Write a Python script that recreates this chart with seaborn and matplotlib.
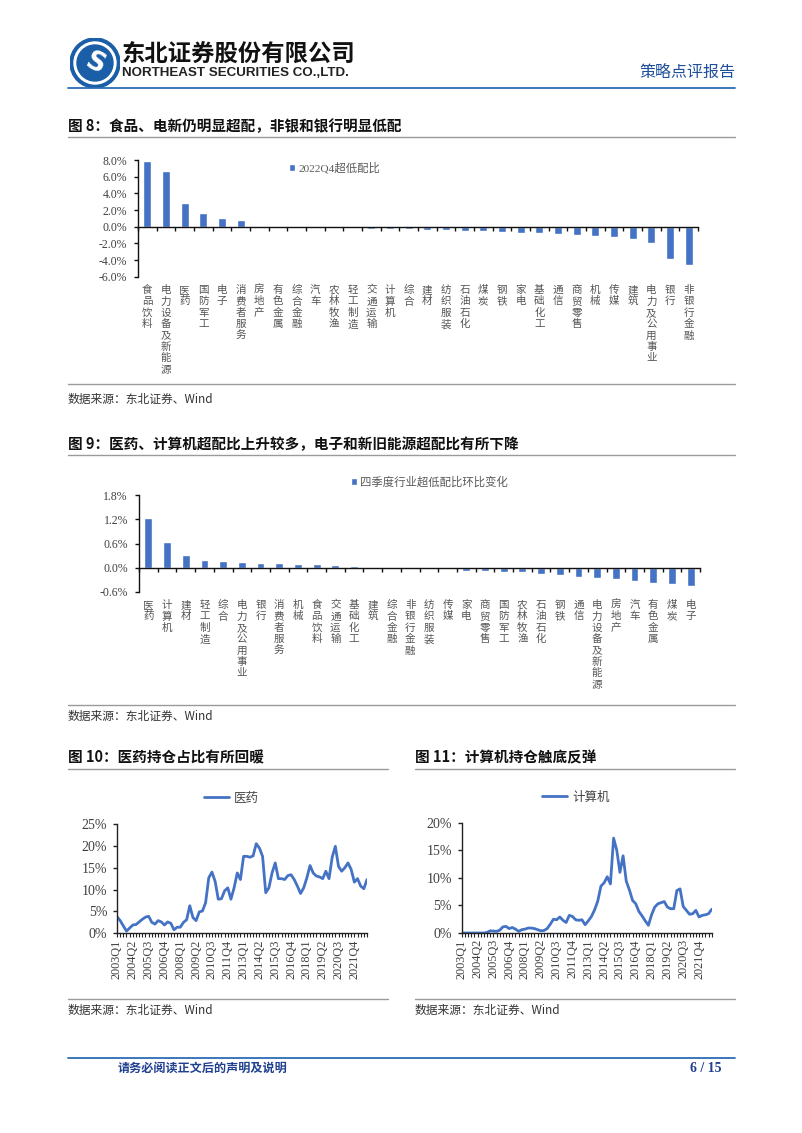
import numpy as np
import pandas as pd
import matplotlib
matplotlib.use("Agg")
import matplotlib.pyplot as plt
import matplotlib.transforms as mtransforms
from matplotlib.lines import Line2D
from matplotlib.patches import Circle
import seaborn as sns

# ---------------- data ----------------
fig8_cats = ["食品饮料", "电力设备及新能源", "医药", "国防军工", "电子", "消费者服务", "房地产",
             "有色金属", "综合金融", "汽车", "农林牧渔", "轻工制造", "交通运输", "计算机", "综合",
             "建材", "纺织服装", "石油石化", "煤炭", "钢铁", "家电", "基础化工", "通信", "商贸零售",
             "机械", "传媒", "建筑", "电力及公用事业", "银行", "非银行金融"]
fig8_vals = [7.9, 6.7, 2.9, 1.6, 1.1, 0.8, 0.02, 0.0, -0.05, -0.1, -0.15, -0.2, -0.25, -0.25,
             -0.3, -0.35, -0.4, -0.5, -0.55, -0.6, -0.7, -0.8, -0.9, -1.0, -1.1, -1.2, -1.5,
             -2.0, -3.9, -4.6]

fig9_cats = ["医药", "计算机", "建材", "轻工制造", "综合", "电力及公用事业", "银行", "消费者服务",
             "机械", "食品饮料", "交通运输", "基础化工", "建筑", "综合金融", "非银行金融", "纺织服装",
             "传媒", "家电", "商贸零售", "国防军工", "农林牧渔", "石油石化", "钢铁", "通信",
             "电力设备及新能源", "房地产", "汽车", "有色金属", "煤炭", "电子"]
fig9_vals = [1.24, 0.64, 0.32, 0.19, 0.17, 0.14, 0.12, 0.12, 0.09, 0.09, 0.06, 0.04, 0.02,
             0.005, 0.0, -0.005, -0.01, -0.09, -0.09, -0.1, -0.1, -0.16, -0.18, -0.22, -0.25,
             -0.28, -0.34, -0.38, -0.41, -0.44]

line_tick_labels = ["2003Q1", "2004Q2", "2005Q3", "2006Q4", "2008Q1", "2009Q2", "2010Q3", "2011Q4",
                    "2013Q1", "2014Q2", "2015Q3", "2016Q4", "2018Q1", "2019Q2", "2020Q3", "2021Q4"]

med_vals = [3.8, 2.9, 1.7, 0.5, 1.2, 1.9, 2.0, 2.6, 3.2, 3.7, 3.9, 2.5, 2.1, 2.9, 2.6, 1.9,
            2.6, 2.3, 0.8, 1.4, 1.4, 2.5, 3.1, 6.3, 3.6, 2.9, 4.9, 5.1, 7.0, 12.7, 14.0, 11.9,
            7.8, 7.9, 9.7, 10.4, 7.8, 10.4, 13.8, 12.3, 17.6, 17.6, 17.4, 17.7, 20.5, 19.5,
            17.6, 9.3, 10.4, 13.8, 16.1, 12.5, 12.5, 12.3, 13.2, 13.4, 12.3, 10.8, 9.1, 10.4,
            12.7, 15.5, 13.8, 13.1, 12.9, 12.5, 14.2, 12.5, 17.4, 19.9, 15.3, 14.2, 15.0, 16.1,
            14.6, 11.7, 12.5, 10.8, 10.2, 12.3]

comp_vals = [0.0, 0.0, 0.0, 0.0, 0.0, 0.0, 0.0, 0.0, 0.1, 0.4, 0.35, 0.3, 0.5, 1.1, 1.2, 0.8,
             1.0, 0.7, 0.3, 0.6, 0.7, 0.9, 0.9, 0.8, 0.6, 0.4, 0.45, 0.8, 1.6, 2.5, 2.4, 2.9,
             2.3, 1.9, 3.2, 3.0, 2.4, 2.3, 2.4, 1.5, 2.2, 3.0, 4.2, 5.8, 8.5, 9.1, 10.2, 8.9,
             17.2, 15.0, 11.0, 14.0, 9.4, 7.8, 5.9, 5.3, 3.9, 3.1, 2.2, 1.4, 3.3, 4.7, 5.3, 5.5,
             5.7, 4.7, 4.4, 4.4, 7.7, 8.0, 4.8, 4.1, 3.4, 3.5, 4.1, 2.9, 3.2, 3.3, 3.5, 4.3]

# ---------------- style ----------------
sns.set_theme(style="white")
plt.rcParams["font.family"] = ["Noto Sans CJK SC", "DejaVu Sans"]
plt.rcParams["axes.unicode_minus"] = False

BAR = "#4472C4"
NUM_FONT = ["Liberation Serif", "Noto Sans CJK SC"]
W, H = 802, 1133

fig = plt.figure(figsize=(W / 100, H / 100), dpi=100)


def fx(x):
    return x / W


def fy(y):
    return 1 - y / H


def add_ax(x0, y0, x1, y1):
    return fig.add_axes([fx(x0), fy(y1), (x1 - x0) / W, (y1 - y0) / H])


def hline(x0, x1, y, color, lw):
    fig.add_artist(Line2D([fx(x0), fx(x1)], [fy(y), fy(y)], color=color, lw=lw,
                          transform=fig.transFigure))


def ftext(x, y, s, **kw):
    fig.text(fx(x), fy(y), s, **kw)


# ---------------- header ----------------
lax = add_ax(70, 38, 120, 88)
lax.set_xlim(-1, 1)
lax.set_ylim(-1, 1)
lax.set_aspect("equal")
lax.axis("off")
lax.add_patch(Circle((0, 0), 1.0, color="#1b5ea8"))
lax.add_patch(Circle((0, 0), 0.84, color="white"))
lax.add_patch(Circle((0, 0), 0.72, color="#1b5ea8"))
lax.text(0, -0.02, "S", color="white", fontsize=19, fontweight="bold", ha="center",
         va="center", rotation=-25, family="DejaVu Sans")

ftext(122, 54, "东北证券股份有限公司", fontsize=16.8, fontweight="heavy", color="#111111",
      va="center", ha="left")
ftext(122, 72.5, "NORTHEAST SECURITIES CO.,LTD.", fontsize=9.6, fontweight="bold",
      color="#222222", va="center", ha="left", family="Liberation Sans")
ftext(735, 72, "策略点评报告", fontsize=11.5, fontweight="medium", color="#1f4e9c",
      va="center", ha="right")
hline(68, 735, 87.5, "#2b6cb5", 1.3)

# ---------------- titles & source lines ----------------
TITLE_KW = dict(fontsize=10.5, fontweight="bold", color="#111111", va="center", ha="left")
SRC_KW = dict(fontsize=8.5, color="#333333", va="center", ha="left")

ftext(68, 126, "图 8：食品、电新仍明显超配，非银和银行明显低配", **TITLE_KW)
hline(68, 735, 137.5, "#9a9a9a", 1.0)
hline(68, 735, 384, "#9a9a9a", 1.0)
ftext(68, 399, "数据来源：东北证券、Wind", **SRC_KW)

ftext(68, 444, "图 9：医药、计算机超配比上升较多，电子和新旧能源超配比有所下降", **TITLE_KW)
hline(68, 735, 455.5, "#9a9a9a", 1.0)
hline(68, 735, 705, "#9a9a9a", 1.0)
ftext(68, 716, "数据来源：东北证券、Wind", **SRC_KW)

ftext(68, 757, "图 10：医药持仓占比有所回暖", **TITLE_KW)
hline(68, 388, 768.5, "#9a9a9a", 1.0)
hline(68, 388, 998.5, "#9a9a9a", 1.0)
ftext(68, 1010, "数据来源：东北证券、Wind", **SRC_KW)

ftext(415, 757, "图 11：计算机持仓触底反弹", **TITLE_KW)
hline(415, 735, 768.5, "#9a9a9a", 1.0)
hline(415, 735, 998.5, "#9a9a9a", 1.0)
ftext(415, 1010, "数据来源：东北证券、Wind", **SRC_KW)

# footer
hline(68, 735, 1058, "#2b6cb5", 1.3)
ftext(118, 1068, "请务必阅读正文后的声明及说明", fontsize=8.7, fontweight="bold",
      color="#1f3f8f", va="center", ha="left")
ftext(721, 1068, "6 / 15", fontsize=10, fontweight="bold", color="#1f3f8f", va="center",
      ha="right", family="Liberation Serif")


# ---------------- bar charts ----------------
def bar_chart(box, cats, vals, ylim, yticks, legend_label, legend_xy, label_top):
    ax = add_ax(*box)
    df = pd.DataFrame({"cat": cats, "val": vals})
    sns.barplot(data=df, x="cat", y="val", color=BAR, saturation=1, width=0.42, ax=ax,
                label=legend_label)
    n = len(cats)
    ax.set_xlim(-0.5, n - 0.5)
    ax.set_ylim(*ylim)
    ax.set_yticks(yticks)
    ax.set_yticklabels([f"{v:.1f}%" for v in yticks], fontfamily=NUM_FONT, fontsize=8.5,
                       color="#404040")
    ax.set_xticks(np.arange(n + 1) - 0.5)
    ax.set_xticklabels([])
    ax.set_xlabel("")
    ax.set_ylabel("")
    ax.patch.set_alpha(0)
    for s in ["top", "right"]:
        ax.spines[s].set_visible(False)
    ax.spines["bottom"].set_position(("data", 0))
    for s in ["bottom", "left"]:
        ax.spines[s].set_color("#111111")
        ax.spines[s].set_linewidth(1.0)
    ax.tick_params(axis="x", direction="out", length=3, width=1, color="#111111", bottom=True)
    ax.tick_params(axis="y", direction="out", length=3, width=1, color="#111111", left=True,
                   pad=5)
    tr = mtransforms.blended_transform_factory(ax.transData, fig.transFigure)
    for i, c in enumerate(cats):
        for k, ch in enumerate(c):
            ax.text(i, fy(label_top + k * 11.4), ch, transform=tr, ha="center", va="top",
                    fontsize=7.6, color="#555555")
    ax.legend(loc="center left", bbox_to_anchor=(fx(legend_xy[0]), fy(legend_xy[1])),
              bbox_transform=fig.transFigure, frameon=False, borderpad=0, borderaxespad=0,
              handlelength=0.55, handleheight=0.55, handletextpad=0.25,
              prop={"family": NUM_FONT, "size": 8.2}, labelcolor="#595959")
    return ax


bar_chart((138, 160, 698, 276.7), fig8_cats, fig8_vals, (-6, 8),
          [8, 6, 4, 2, 0, -2, -4, -6], "2022Q4超低配比", (289, 168), 285)

bar_chart((139, 495, 700, 592), fig9_cats, fig9_vals, (-0.6, 1.8),
          [1.8, 1.2, 0.6, 0.0, -0.6], "四季度行业超低配比环比变化", (351, 482), 600)


# ---------------- line charts ----------------
def line_chart(box, vals, label, ylim, yticks, legend_xy):
    ax = add_ax(*box)
    n = len(vals)
    df = pd.DataFrame({"q": np.arange(n), "v": vals})
    sns.lineplot(data=df, x="q", y="v", ax=ax, color=BAR, lw=2.0, label=label)
    ax.set_xlim(0, n - 1)
    ax.set_ylim(*ylim)
    ax.set_yticks(yticks)
    ax.set_yticklabels([f"{v}%" for v in yticks], fontfamily=NUM_FONT, fontsize=10,
                       color="#404040")
    ax.set_xticks(np.arange(0, 5 * len(line_tick_labels), 5))
    ax.set_xticklabels(line_tick_labels, rotation=90, fontfamily=NUM_FONT, fontsize=8.8,
                       color="#404040")
    ax.set_xticks(np.arange(n), minor=True)
    ax.set_xlabel("")
    ax.set_ylabel("")
    ax.patch.set_alpha(0)
    for s in ["top", "right"]:
        ax.spines[s].set_visible(False)
    for s in ["bottom", "left"]:
        ax.spines[s].set_color("#222222")
        ax.spines[s].set_linewidth(1.0)
    ax.tick_params(axis="x", which="both", direction="out", length=3, width=0.8,
                   color="#222222", bottom=True, pad=1.5)
    ax.tick_params(axis="y", direction="out", length=3, width=1, color="#222222", left=True,
                   pad=4)
    ax.legend(loc="center left", bbox_to_anchor=(fx(legend_xy[0]), fy(legend_xy[1])),
              bbox_transform=fig.transFigure, frameon=False, borderpad=0, borderaxespad=0,
              handlelength=2.0, handletextpad=0.4, prop={"size": 9}, labelcolor="#444444")
    return ax


line_chart((117, 824, 367, 933.3), med_vals, "医药", (0, 25), [0, 5, 10, 15, 20, 25],
           (204, 798))
line_chart((461.7, 822.7, 711.7, 933), comp_vals, "计算机", (0, 20), [0, 5, 10, 15, 20],
           (542, 797))

fig.savefig("out.png", dpi=100)
